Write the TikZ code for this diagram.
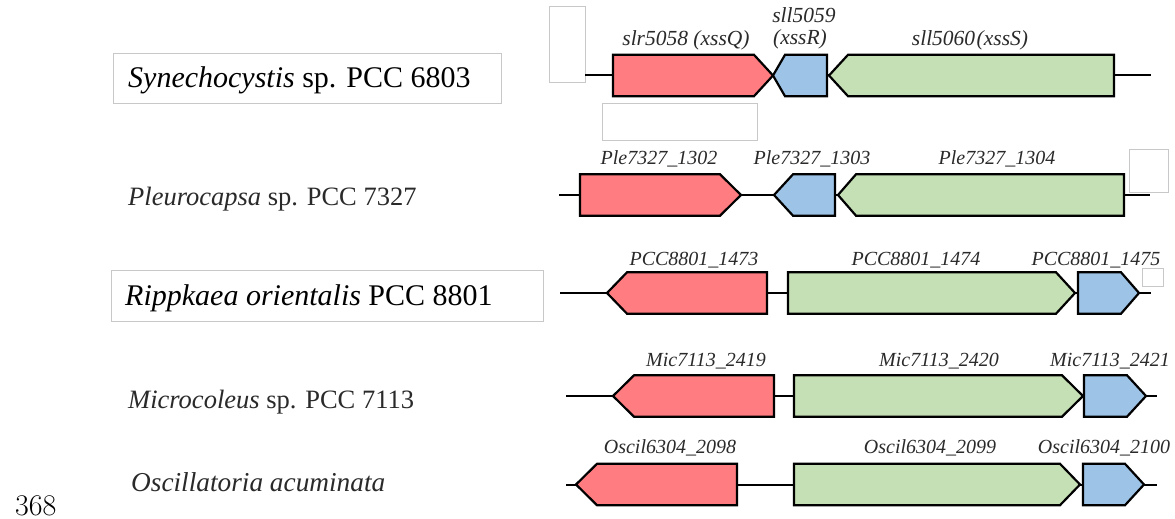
\documentclass[tikz,border=0pt]{standalone}
\usepackage{fontspec}
\setmainfont{Liberation Serif}
\newfontfamily\lmfont{Latin Modern Roman}
\definecolor{genered}{HTML}{FF7C80}
\definecolor{geneblue}{HTML}{9DC3E6}
\definecolor{genegreen}{HTML}{C5E0B4}
\definecolor{framegray}{HTML}{C8C8C8}
\definecolor{softblack}{HTML}{2A2A2A}
\tikzset{
  gene/.style={draw=black, line width=2.2pt, line join=miter},
  backbone/.style={draw=black, line width=2pt},
  emptybox/.style={draw=framegray, line width=0.8pt, fill=white},
  species/.style={anchor=base west, inner sep=0pt, font=\fontsize{30}{33}\selectfont},
  speciessm/.style={anchor=base west, inner sep=0pt, text=softblack, font=\fontsize{26.5}{29}\selectfont},
  genelabel/.style={anchor=base, inner sep=0pt, text=softblack, font=\fontsize{20}{22}\selectfont\itshape},
  genelabelbig/.style={genelabel, font=\fontsize{21.5}{23}\selectfont\itshape},
}
% forward gene: left x, tip x, centre y, head length, colour
\newcommand{\genefwd}[5]{%
  \draw[gene, fill=#5] (#1,#3-20.7) -- ({#2-#4},#3-20.7) -- (#2,#3) -- ({#2-#4},#3+20.7) -- (#1,#3+20.7) -- cycle;}
% reverse gene: tip x, right x, centre y, head length, colour
\newcommand{\generev}[5]{%
  \draw[gene, fill=#5] (#1,#3) -- ({#1+#4},#3-20.7) -- (#2,#3-20.7) -- (#2,#3+20.7) -- ({#1+#4},#3+20.7) -- cycle;}
\begin{document}
\begin{tikzpicture}[x=1pt, y=-1pt]
\useasboundingbox[fill=white] (0,0) rectangle (1175,519);

% ---- Synechocystis sp. PCC 6803 ----
\draw[emptybox] (113,53) rectangle (501,103);
\node[species] (sp1) at (128,88) {\textit{Synechocystis} sp. PCC 6803};
\draw[emptybox] (549,6) rectangle (585,82);
\draw[emptybox] (602,103) rectangle (757,140);
\coordinate (b1l) at (585,75.5); \coordinate (b1r) at (1151,75.5);
\draw[backbone] (b1l) -- (b1r);
\genefwd{613}{773}{75.5}{19}{genered}
\generev{773}{827}{75.5}{12}{geneblue}
\generev{829}{1114}{75.5}{19}{genegreen}
\node[genelabelbig] (g11) at (686,46) {slr5058 (xssQ)};
\node[genelabelbig] (g12a) at (804,23) {sll5059};
\node[genelabelbig] (g12b) at (800,45) {(xssR)};
\node[genelabelbig] (g13) at (970,46) {sll5060\kern1.5pt(xssS)};

% ---- Pleurocapsa sp. PCC 7327 ----
\node[speciessm] (sp2) at (128,205) {\textit{Pleurocapsa} sp. PCC 7327};
\draw[emptybox] (1129,149) rectangle (1168,192);
\coordinate (b2l) at (559,195); \coordinate (b2r) at (1150,195);
\draw[backbone] (b2l) -- (b2r);
\genefwd{580}{741}{195}{21}{genered}
\generev{774}{835}{195}{19}{geneblue}
\generev{838}{1124}{195}{18}{genegreen}
\node[genelabel] (g21) at (659,164) {Ple7327\_1302};
\node[genelabel] (g22) at (812,164) {Ple7327\_1303};
\node[genelabel] (g23) at (997,164) {Ple7327\_1304};

% ---- Rippkaea orientalis PCC 8801 ----
\draw[emptybox] (111,270) rectangle (543,321);
\node[species] (sp3) at (125,305) {\textit{Rippkaea orientalis} PCC 8801};
\draw[emptybox] (1142,268) rectangle (1163,286);
\coordinate (b3l) at (560,293); \coordinate (b3r) at (1151,293);
\draw[backbone] (b3l) -- (b3r);
\generev{607}{767}{293}{20}{genered}
\genefwd{788}{1075}{293}{19}{genegreen}
\genefwd{1078}{1139}{293}{18}{geneblue}
\node[genelabel] (g31) at (694,265) {PCC8801\_1473};
\node[genelabel] (g32) at (916,265) {PCC8801\_1474};
\node[genelabel] (g33) at (1096,265) {PCC8801\_1475};

% ---- Microcoleus sp. PCC 7113 ----
\node[speciessm] (sp4) at (128,408) {\textit{Microcoleus} sp. PCC 7113};
\coordinate (b4l) at (566,396); \coordinate (b4r) at (1157,396);
\draw[backbone] (b4l) -- (b4r);
\generev{613}{774}{396}{21}{genered}
\genefwd{794}{1083}{396}{21}{genegreen}
\genefwd{1084}{1146}{396}{19}{geneblue}
\node[genelabel] (g41) at (706,366) {Mic7113\_2419};
\node[genelabel] (g42) at (939,366) {Mic7113\_2420};
\node[genelabel] (g43) at (1110,366) {Mic7113\_2421};

% ---- Oscillatoria acuminata ----
\node[speciessm, font=\fontsize{27.3}{29}\selectfont] (sp5) at (131,491) {\textit{Oscillatoria acuminata}};
\coordinate (b5l) at (566,484.5); \coordinate (b5r) at (1157,484.5);
\draw[backbone] (b5l) -- (b5r);
\generev{576}{737}{484.5}{21}{genered}
\genefwd{794}{1080}{484.5}{20}{genegreen}
\genefwd{1083}{1144}{484.5}{19}{geneblue}
\node[genelabel] (g51) at (670,453) {Oscil6304\_2098};
\node[genelabel] (g52) at (930,453) {Oscil6304\_2099};
\node[genelabel] (g53) at (1104,453) {Oscil6304\_2100};

% page number
\node[anchor=base west, inner sep=0pt, font=\lmfont\fontsize{30}{32}\selectfont] (pg) at (15,515) {368};
\end{tikzpicture}
\end{document}
